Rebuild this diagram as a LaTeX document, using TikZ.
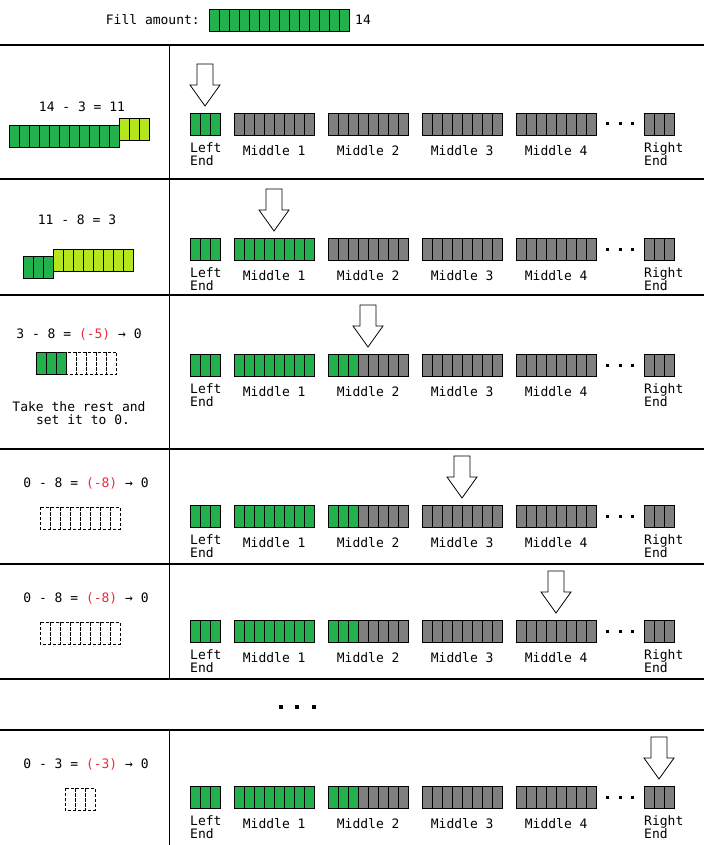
\documentclass[tikz,border=0pt]{standalone}
\usepackage{fontspec}
\setmonofont{DejaVu Sans Mono}
\usetikzlibrary{positioning}
\definecolor{segon}{RGB}{34,177,76}
\definecolor{segoff}{RGB}{127,127,127}
\definecolor{segnew}{RGB}{181,230,29}
\definecolor{minus}{RGB}{240,40,55}
\newcommand\cellbar[6]{%
	\foreach \k in {1,...,#3}{
		\ifnum\k>#4 \def\cellcol{segoff}\else\def\cellcol{#5}\fi
		\filldraw[cell, fill=\cellcol] ({#1+(\k-1)*10},{#2}) rectangle ++(10,22);
	}
	\node[seg, minimum width=#3*10pt, anchor=north west] (#6) at ({#1},{#2}) {};%
}
\newcommand\dashbar[4]{%
	\foreach \k in {1,...,#3}{
		\draw[cell, densely dashed] ({#1+(\k-1)*10},{#2}) rectangle ++(10,22);
	}
	\node[seg, minimum width=#3*10pt, anchor=north west] (#4) at ({#1},{#2}) {};%
}

\begin{document}
\begin{tikzpicture}[x=1pt, y=-1pt,
	txt/.style={font=\ttfamily\fontsize{13}{15}\selectfont, inner sep=0pt},
	cell/.style={draw=black, line width=0.8pt},
	seg/.style={inner sep=0pt, minimum height=22pt},
	rule/.style={line width=1.2pt},
	pointer/.style={draw=black, fill=white, line width=0.8pt, line join=miter},
	dot/.style={fill=black}]
\useasboundingbox (0,0) rectangle (704,845);

\node[txt, anchor=base east] (filltxt) at (200,25) {Fill amount:};
\cellbar{209}{9}{14}{14}{segon}{fillbar}
\node[txt, anchor=base west] (fillnum) at (355,25) {14};

\foreach \h in {45,179,295,449,564,679,730}
	\draw[rule] (0,\h) -- (704,\h);
\draw[rule] (169.5,45) -- (169.5,679);
\draw[rule] (169.5,730) -- (169.5,845);

\node[txt, anchor=base] (eqa) at (82,111.5) {14 - 3 = 11};
\cellbar{9}{125.3}{11}{11}{segon}{takea}
\cellbar{119.3}{118.3}{3}{3}{segnew}{needa}

\node[txt, anchor=base] (eqb) at (77,224.3) {11 - 8 = 3};
\cellbar{23.3}{256.3}{3}{3}{segon}{takeb}
\cellbar{53.3}{249.3}{8}{8}{segnew}{needb}

\node[txt, anchor=base] (eqc) at (79,338.3) {3 - 8 = \textcolor{minus}{(-5)} → 0};
\cellbar{36.7}{352.3}{3}{3}{segon}{takec}
\dashbar{66.7}{352.3}{5}{restc}
\node[txt, anchor=base] (notea) at (79,411) {Take the rest and};
\node[txt, anchor=base] (noteb) at (83,424) {set it to 0.};

\node[txt, anchor=base] (eqd) at (86,487.3) {0 - 8 = \textcolor{minus}{(-8)} → 0};
\dashbar{40.3}{507.3}{8}{restd}

\node[txt, anchor=base] (eqe) at (86,602.3) {0 - 8 = \textcolor{minus}{(-8)} → 0};
\dashbar{40.3}{622.3}{8}{reste}

\foreach \dx in {281,297,314}
	\fill[dot] (\dx-2,705) rectangle ++(4,4);

\node[txt, anchor=base] (eqf) at (86,768.3) {0 - 3 = \textcolor{minus}{(-3)} → 0};
\dashbar{65}{788.3}{3}{restf}

\foreach \y/\r/\mA/\mB/\ax in {113/a/0/0/205, 238/b/8/0/274, 354/c/8/3/368, 505/d/8/3/462, 620/e/8/3/556, 786/f/8/3/659}{
	\draw[pointer] (\ax-8,\y-49) -- (\ax+8,\y-49) -- (\ax+8,\y-28) -- (\ax+15,\y-28) -- (\ax,\y-7) -- (\ax-15,\y-28) -- (\ax-8,\y-28) -- cycle;
	\cellbar{190}{\y}{3}{3}{segon}{lend\r}
	\node[txt, anchor=base west] (lendt\r) at ([yshift=-17pt]lend\r.south west) {Left};
	\node[txt, anchor=base west] (lendb\r) at ([yshift=-30pt]lend\r.south west) {End};
	\foreach \m/\g in {1/\mA, 2/\mB, 3/0, 4/0}{
		\cellbar{234+94*(\m-1)}{\y}{8}{\g}{segon}{mid\m\r}
		\node[txt, anchor=base] (midl\m\r) at ([yshift=-20pt]mid\m\r.south) {Middle \m};
	}
	\foreach \dx in {607,620,632}
		\fill[dot] (\dx-1.5,\y+9.5) rectangle ++(3,3);
	\cellbar{644}{\y}{3}{0}{segon}{rend\r}
	\node[txt, anchor=base west] (rendt\r) at ([yshift=-17pt]rend\r.south west) {Right};
	\node[txt, anchor=base west] (rendb\r) at ([yshift=-30pt]rend\r.south west) {End};
}
\end{tikzpicture}
\end{document}
